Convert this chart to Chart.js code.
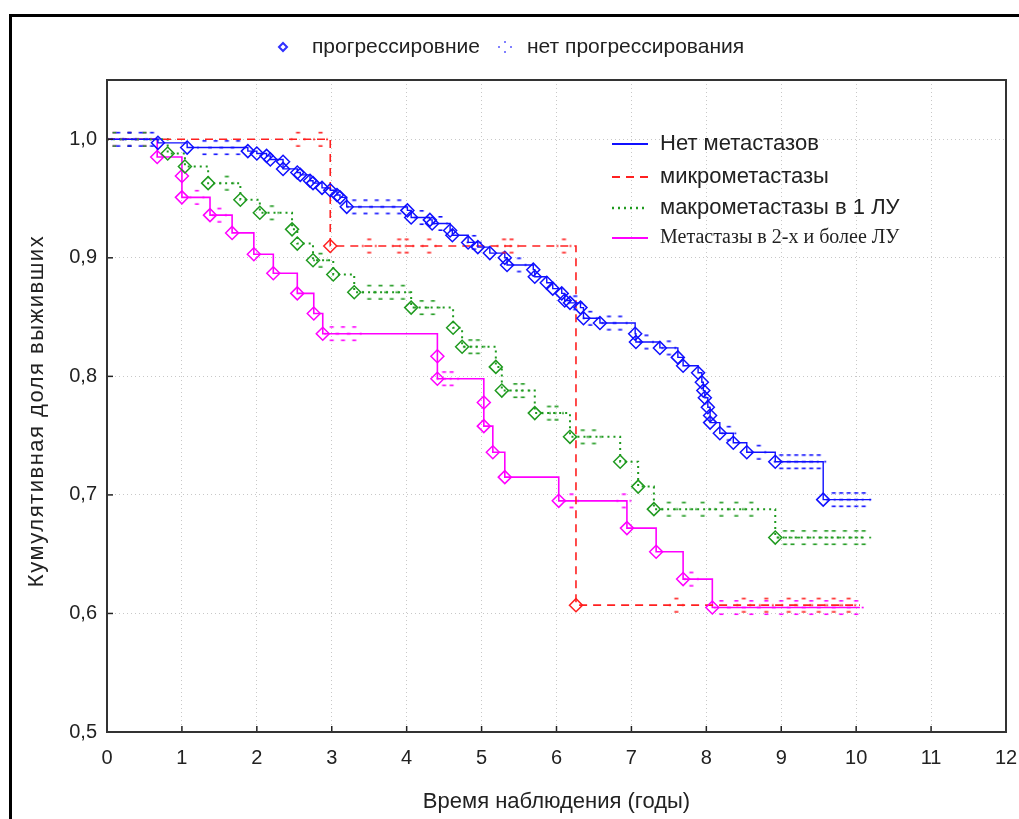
<!DOCTYPE html>
<html><head><meta charset="utf-8">
<script src="https://cdn.jsdelivr.net/npm/chart.js@4.4.1/dist/chart.umd.min.js"></script>
<style>
html,body{margin:0;padding:0;background:#fff;overflow:hidden;}
#wrap{position:relative;width:1019px;height:819px;}
#frame{position:absolute;left:9px;top:14px;width:1100px;height:900px;border:3px solid #000;box-sizing:border-box;}
canvas{position:absolute;left:0;top:0;}
</style></head><body>
<div id="wrap"><div id="frame"></div><canvas id="c" width="1019" height="819"></canvas></div>
<script>
// ---------------- data ----------------
const xTickValues = [0,1,2,3,4,5,6,7,8,9,10,11,12];
const yTickValues = [0.5,0.6,0.7,0.8,0.9,1.0];
const seriesNames = ['Нет метастазов','микрометастазы','макрометастазы в 1 ЛУ','Метастазы в 2-х и более ЛУ'];
const markerLegend = ['прогрессировние','нет прогрессирования'];
const xTitle = 'Время наблюдения (годы)';
const yTitle = 'Кумулятивная доля выживших';

// Нет метастазов
const noMetTimes = [0.68,1.07,1.88,2.00,2.13,2.18,2.35,2.35,2.54,2.58,2.71,2.75,2.87,2.98,3.07,3.11,3.20,4.01,4.06,4.31,4.34,4.58,4.61,4.82,4.95,5.11,5.31,5.34,5.69,5.71,5.87,5.95,6.07,6.11,6.18,6.32,6.36,6.58,7.05,7.06,7.38,7.62,7.69,7.89,7.94,7.96,7.98,8.02,8.05,8.05,8.18,8.36,8.54,8.92,9.56];
const noMetSurv  = [0.997,0.993,0.990,0.988,0.986,0.983,0.981,0.975,0.972,0.970,0.965,0.963,0.959,0.957,0.953,0.951,0.943,0.940,0.934,0.932,0.929,0.923,0.919,0.913,0.909,0.904,0.900,0.894,0.890,0.884,0.879,0.874,0.870,0.864,0.862,0.858,0.849,0.845,0.836,0.829,0.824,0.816,0.809,0.803,0.795,0.788,0.782,0.774,0.767,0.761,0.752,0.744,0.736,0.728,0.696];
const noMetCensor = [0.15,0.3,0.45,0.6,1.3,1.45,1.6,1.75,3.3,3.45,3.6,3.75,3.9,4.2,4.45,4.9,5.5,6.25,6.45,6.7,6.85,7.2,7.5,8.3,8.7,9.0,9.1,9.2,9.3,9.4,9.5,9.7,9.8,9.9,10.0,10.1];
const noMetEnd = 10.2;

// микрометастазы
const microTimes = [2.98,6.26];
const microSurv  = [0.910,0.607];
const microCensor = [2.55,2.85,3.5,3.9,4.0,4.3,5.3,5.4,6.1,7.6,8.5,8.8,9.1,9.3,9.5,9.7,9.9];
const microEnd = 10.05;

// макрометастазы в 1 ЛУ
const macroTimes = [0.81,1.04,1.35,1.78,2.04,2.47,2.54,2.75,3.02,3.30,4.06,4.62,4.74,5.19,5.27,5.71,6.18,6.85,7.09,7.30,8.92];
const macroSurv  = [0.988,0.977,0.963,0.949,0.938,0.924,0.912,0.898,0.886,0.871,0.858,0.841,0.825,0.808,0.788,0.769,0.749,0.728,0.707,0.688,0.664];
const macroCensor = [0.1,0.3,0.5,1.6,2.2,2.85,3.5,3.65,3.8,3.95,4.2,4.35,4.85,4.95,5.45,5.55,5.9,6.0,6.35,6.5,7.5,7.7,7.95,8.2,8.4,8.6,9.05,9.15,9.3,9.45,9.6,9.7,9.85,10.0,10.1];
const macroEnd = 10.13;

// Метастазы в 2-х и более ЛУ
const multiTimes = [0.67,1.00,1.00,1.375,1.67,1.96,2.22,2.54,2.76,2.88,4.41,4.41,5.03,5.03,5.15,5.31,6.03,6.94,7.33,7.69,8.08];
const multiSurv  = [0.985,0.969,0.951,0.936,0.921,0.903,0.887,0.870,0.853,0.836,0.817,0.798,0.778,0.758,0.736,0.715,0.695,0.672,0.652,0.629,0.605];
const multiCensor = [0.1,0.3,0.5,1.2,1.5,3.0,3.15,3.3,4.5,4.6,6.2,6.9,7.8,8.2,8.4,8.6,8.8,9.0,9.2,9.4,9.6,9.8,10.0];
const multiEnd = 10.05;

// ---------------- styles ----------------
const FONT = 'Liberation Sans, Arial, sans-serif';
const styles = [
  {color:'#1010ff', dash:[], width:1.4},
  {color:'#ff2020', dash:[8,6], width:1.6},
  {color:'#1f9a1f', dash:[2,4], width:2},
  {color:'#ff00ff', dash:[], width:1.6}
];

function survAt(times, surv, t){
  let s = 1;
  for (let i=0;i<times.length;i++){ if (times[i] <= t) s = surv[i]; }
  return s;
}
function censorIcon(color){
  const c = document.createElement('canvas'); c.width = 17; c.height = 17;
  const g = c.getContext('2d'); g.fillStyle = color;
  g.fillRect(6.5,1,4,1.6);
  g.fillRect(6.5,14.4,4,1.6);
  g.fillRect(1,7.7,2,1.6);
  g.fillRect(14,7.7,2,1.6);
  return c;
}

const groups = [
  {t:noMetTimes, s:noMetSurv, c:noMetCensor, end:noMetEnd},
  {t:microTimes, s:microSurv, c:microCensor, end:microEnd},
  {t:macroTimes, s:macroSurv, c:macroCensor, end:macroEnd},
  {t:multiTimes, s:multiSurv, c:multiCensor, end:multiEnd}
];

const datasets = [];
groups.forEach((g,i)=>{
  const st = styles[i];
  const line = [{x:0,y:1}].concat(g.t.map((t,k)=>({x:t,y:g.s[k]})));
  line.push({x:g.end, y:g.s[g.s.length-1]});
  datasets.push({type:'line', label:seriesNames[i], data:line, stepped:'before', borderColor:st.color,
    borderDash:st.dash, borderWidth:st.width, pointRadius:0, fill:false, order:3});
  datasets.push({type:'scatter', label:seriesNames[i]+' события', data:g.t.map((t,k)=>({x:t,y:g.s[k]})),
    showLine:false, pointStyle:'rectRot', pointRadius:6.5, borderColor:st.color, backgroundColor:'rgba(0,0,0,0)',
    pointBorderWidth:1.5, order:2});
  datasets.push({type:'scatter', label:seriesNames[i]+' цензур.', data:g.c.map(t=>({x:t,y:survAt(g.t,g.s,t)})),
    showLine:false, pointStyle:censorIcon(st.color), pointRadius:7, order:1});
});

const decor = {
  id:'decor',
  afterDraw(chart){
    const {ctx, chartArea:a, scales} = chart;
    ctx.save();
    // inward tick marks
    ctx.strokeStyle = '#222'; ctx.lineWidth = 1.5;
    yTickValues.forEach(v=>{ const y = scales.y.getPixelForValue(v); ctx.beginPath(); ctx.moveTo(a.left,y); ctx.lineTo(a.left+6,y); ctx.stroke(); });
    xTickValues.forEach(v=>{ const x = scales.x.getPixelForValue(v); ctx.beginPath(); ctx.moveTo(x,a.bottom); ctx.lineTo(x,a.bottom-6); ctx.stroke(); });
    // frame
    ctx.strokeStyle = '#333'; ctx.lineWidth = 2;
    ctx.strokeRect(a.left, a.top, a.right-a.left, a.bottom-a.top);

    // y axis title (with slight letter spacing)
    ctx.save();
    ctx.translate(37, (a.top + a.bottom)/2 + 5);
    ctx.rotate(-Math.PI/2);
    ctx.font = '22px ' + FONT; ctx.fillStyle = '#222';
    ctx.textAlign = 'center'; ctx.textBaseline = 'middle';
    try { ctx.letterSpacing = '1.5px'; } catch(e) {}
    ctx.fillText(yTitle, 0, 0);
    try { ctx.letterSpacing = '0px'; } catch(e) {}
    ctx.restore();

    // top marker legend
    ctx.textBaseline = 'middle'; ctx.textAlign = 'left';
    ctx.font = '21px ' + FONT; ctx.fillStyle = '#222';
    const ly = 47;
    ctx.strokeStyle = '#3030ff'; ctx.lineWidth = 2;
    ctx.beginPath(); ctx.moveTo(283-4,ly); ctx.lineTo(283,ly-4); ctx.lineTo(283+4,ly); ctx.lineTo(283,ly+4); ctx.closePath(); ctx.stroke();
    ctx.fillText(markerLegend[0], 312, ly);
    ctx.fillStyle = '#8080ff';
    ctx.fillRect(498,ly-1,2,2); ctx.fillRect(510,ly-1,2,2); ctx.fillRect(504,ly-6,2,2); ctx.fillRect(504,ly+4,2,2);
    ctx.fillStyle = '#222';
    ctx.fillText(markerLegend[1], 527, ly);

    // inner series legend
    const rows = [144,177,208,238];
    seriesNames.forEach((name,i)=>{
      const st = styles[i];
      ctx.strokeStyle = st.color; ctx.lineWidth = st.width + 0.6; ctx.setLineDash(st.dash);
      ctx.beginPath(); ctx.moveTo(612, rows[i]); ctx.lineTo(648, rows[i]); ctx.stroke();
      ctx.setLineDash([]);
      ctx.fillStyle = '#222';
      ctx.font = i === 3 ? '20px Liberation Serif, Times New Roman, serif' : '22px ' + FONT;
      ctx.fillText(name, 660, rows[i]);
    });
    ctx.restore();
  }
};

new Chart(document.getElementById('c'), {
  data:{datasets},
  options:{
    responsive:false, animation:false, events:[],
    layout:{padding:{left:0, right:13, top:80, bottom:6}},
    plugins:{legend:{display:false}, tooltip:{enabled:false}},
    scales:{
      x:{type:'linear', min:0, max:12,
        afterBuildTicks: s => { s.ticks = xTickValues.map(v=>({value:v})); },
        ticks:{font:{family:FONT, size:20}, color:'#222', padding:14, callback:v=>String(v)},
        grid:{color:'#c8c8c8', lineWidth:1, drawTicks:false},
        border:{display:false, dash:[1,3]},
        title:{display:true, text:xTitle, font:{family:FONT,size:22}, color:'#222', padding:{top:0,bottom:-2}},
        afterFit: s => { s.height = 819 - 6 - 732; s.paddingLeft = 0; s.paddingRight = 0; }
      },
      y:{type:'linear', min:0.5, max:1.05,
        afterBuildTicks: s => { s.ticks = yTickValues.map(v=>({value:v})); },
        ticks:{font:{family:FONT, size:20}, color:'#222', padding:10, callback:v=>v.toFixed(1).replace('.',',')},
        grid:{color:'#c8c8c8', lineWidth:1, drawTicks:false},
        border:{display:false, dash:[1,3]},
        title:{display:false, text:yTitle},
        afterFit: s => { s.width = 107; }
      }
    }
  },
  plugins:[decor]
});
</script>
</body></html>
